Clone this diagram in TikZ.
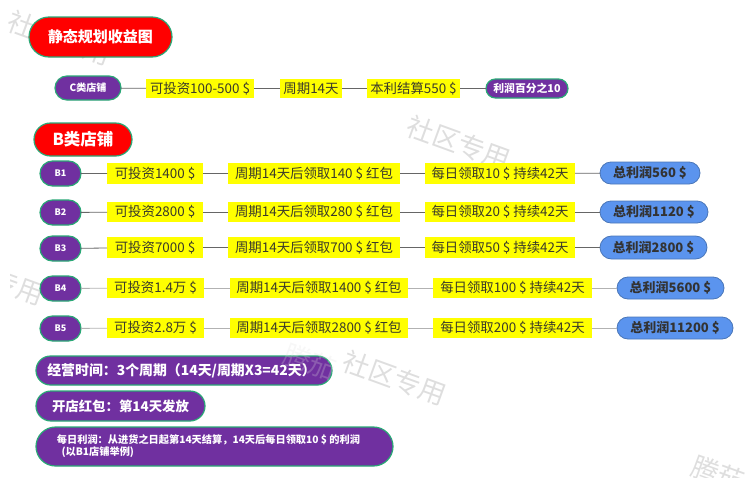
\documentclass[tikz,border=0pt]{standalone}
\usepackage{fontspec}
\setmainfont{Noto Sans CJK SC}
\usetikzlibrary{shapes.misc}
\definecolor{purp}{HTML}{7030A0}
\definecolor{rimg}{HTML}{2AA876}
\definecolor{skyb}{HTML}{5B94EE}
\definecolor{rimb}{HTML}{4A76B8}
\definecolor{txtd}{HTML}{3A3A2A}
\definecolor{wmark}{HTML}{DEDEDE}
\definecolor{yelfill}{RGB}{255,255,0}
\definecolor{redfill}{RGB}{255,0,0}
\tikzset{
  x=1pt,y=-1pt,
  base/.style={inner sep=0pt,outer sep=0pt,align=center},
  link/.style={draw=black!60,line width=0.8pt},
  lightlink/.style={draw=black!30,line width=0.8pt},
  wm/.style={text=wmark,font=\fontsize{#1}{#1}\selectfont,rotate=-20,inner sep=0pt},
  wmover/.style={wm=#1,text opacity=.25},
  yel/.style={base,fill=yelfill,text=txtd,font=\fontsize{13.4}{14}\selectfont},
  redpill/.style={base,rounded rectangle,fill=redfill,draw=rimg,line width=1.2pt,text=white,font=\fontsize{#1}{#1}\selectfont\bfseries},
  purpill/.style={base,rounded rectangle,fill=purp,draw=rimg,line width=1.2pt,text=white,font=\fontsize{#1}{#1}\selectfont\bfseries},
  blupill/.style={base,rounded rectangle,fill=skyb,draw=rimb,line width=0.8pt,text=black!80,font=\fontsize{13}{13}\selectfont\bfseries},
}
% \boxat{name}{x1}{y1}{x2}{y2}{style}{text}
\newcommand{\boxat}[7]{%
  \pgfmathsetmacro{\bw}{#4-#2}\pgfmathsetmacro{\bh}{#5-#3}%
  \node[#6,minimum width=\bw pt,minimum height=\bh pt] (#1) at ({(#2+#4)/2},{(#3+#5)/2}) {#7};}
\begin{document}
\begin{tikzpicture}
\useasboundingbox (0,0) rectangle (748,501);
% watermarks behind the diagram
\node[wm=27] (w1) at (60,38) {社区专用};
\node[wm=27] (w2) at (459,143) {社区专用};
\node[wm=27] (w3) at (395,378) {社区专用};
\begin{scope}
\clip (10,260) rectangle (60,320);
\node[wm=27] (w5) at (18,287) {专用};
\end{scope}
\begin{scope}
\clip (640,440) rectangle (748,477);
\node[wm=27] (w6) at (718,474) {腾茄};
\end{scope}

\boxat{title}{29}{17}{172}{57}{redpill=15}{静态规划收益图}
\boxat{cs}{55}{76}{121}{100}{purpill=10}{C类店铺}
\boxat{c1}{146}{79}{254}{98}{yel}{可投资100-500 \$}
\boxat{c2}{280}{79}{342}{98}{yel}{周期14天}
\boxat{c3}{367}{79}{460}{98}{yel}{本利结算550 \$}
\boxat{c4}{486}{79}{568}{98}{purpill=10.8}{利润百分之10}
\draw[link] (cs) -- (c1);
\draw[link] (c1) -- (c2);
\draw[link] (c2) -- (c3);
\draw[link] (c3) -- (c4);

\boxat{bt}{34}{123}{132}{156}{redpill=16.5}{B类店铺}

% B1
\boxat{b1}{40}{161}{81}{186}{purpill=9}{B1}
\boxat{b1a}{107}{163}{203}{184}{yel}{可投资1400 \$}
\boxat{b1b}{228}{163}{400}{184}{yel}{周期14天后领取140 \$ 红包}
\boxat{b1c}{425}{163}{575}{184}{yel}{每日领取10 \$ 持续42天}
\boxat{b1d}{600}{162}{700}{184}{blupill}{总利润560 \$}
% B2
\boxat{b2}{40}{200}{81}{225}{purpill=9}{B2}
\boxat{b2a}{107}{202}{203}{222}{yel}{可投资2800 \$}
\boxat{b2b}{228}{202}{400}{222}{yel}{周期14天后领取280 \$ 红包}
\boxat{b2c}{425}{202}{575}{222}{yel}{每日领取20 \$ 持续42天}
\boxat{b2d}{600}{201}{708}{223}{blupill}{总利润1120 \$}
% B3
\boxat{b3}{40}{236}{81}{261}{purpill=9}{B3}
\boxat{b3a}{107}{237}{203}{258}{yel}{可投资7000 \$}
\boxat{b3b}{228}{237}{400}{258}{yel}{周期14天后领取700 \$ 红包}
\boxat{b3c}{425}{237}{575}{258}{yel}{每日领取50 \$ 持续42天}
\boxat{b3d}{600}{236}{707}{259}{blupill}{总利润2800 \$}
% B4
\boxat{b4}{40}{276}{81}{301}{purpill=9}{B4}
\boxat{b4a}{107}{278}{204}{298}{yel}{可投资1.4万 \$}
\boxat{b4b}{230}{278}{408}{298}{yel}{周期14天后领取1400 \$ 红包}
\boxat{b4c}{433}{278}{592}{298}{yel}{每日领取100 \$ 持续42天}
\boxat{b4d}{617}{277}{724}{299}{blupill}{总利润5600 \$}
% B5
\boxat{b5}{40}{316}{81}{341}{purpill=9}{B5}
\boxat{b5a}{107}{318}{204}{338}{yel}{可投资2.8万 \$}
\boxat{b5b}{230}{318}{408}{338}{yel}{周期14天后领取2800 \$ 红包}
\boxat{b5c}{433}{318}{592}{338}{yel}{每日领取200 \$ 持续42天}
\boxat{b5d}{617}{317}{733}{339}{blupill}{总利润11200 \$}
\foreach \r/\s in {b1/link,b2/link,b3/link,b4/lightlink,b5/lightlink}{
  \draw[\s] (\r) -- (\r a);
  \draw[\s] (\r a) -- (\r b);
  \draw[\s] (\r b) -- (\r c);
  \draw[\s] (\r c) -- (\r d);
}
\boxat{n1}{36}{356}{332}{385}{purpill=13.9}{\hspace*{-5pt}经营时间：3个周期（14天/周期X3=42天）}
\boxat{n2}{36}{391}{205}{421}{purpill=13.4}{开店红包：第14天发放}
\boxat{n3}{36}{427}{393}{466}{purpill=10.2}{\hspace*{-12pt}\begin{tabular}{@{}l@{}}每日利润：从进货之日起第14天结算，14天后每日领取10 \$ 的利润\\\ \ (以B1店铺举例)\end{tabular}}
% watermark faintly over the pills
\node[wmover=27] (w4) at (310,362) {腾茄};
\end{tikzpicture}
\end{document}
